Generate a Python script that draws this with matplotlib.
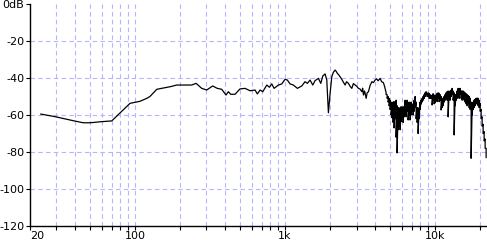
import matplotlib
matplotlib.use("Agg")
import matplotlib.pyplot as plt
from matplotlib.ticker import FixedLocator, NullFormatter

# smooth part of the response (Hz, dB)
freq_lo = [23.6, 29.4, 38.9, 45.3, 50.2, 60.1, 70.1, 92.8, 108, 120, 126, 140, 151, 172, 190,
           239, 256, 279, 301, 330, 354, 379, 405, 420, 435, 465, 502, 542, 586, 632,
           655, 683, 712, 757, 788, 817, 847, 905, 953, 1002, 1038, 1082, 1138, 1211, 1295,
           1362, 1412, 1471, 1533, 1589, 1671, 1734, 1788, 1851, 1901, 1949, 2000, 2053, 2100,
           2159, 2200, 2236, 2280, 2331, 2393, 2442, 2518, 2576, 2649, 2719, 2791, 2860, 2937,
           3014, 3089, 3170, 3255, 3296, 3337, 3396, 3479, 3530, 3604, 3696, 3797, 3888, 3991,
           4084, 4178, 4309, 4408, 4532, 4618]
db_lo = [-59.5, -60.9, -63.1, -64.2, -64.2, -63.6, -63.2, -53.7, -52.6, -51.0, -50.0, -46.1, -45.6, -44.7, -43.8,
         -43.8, -42.9, -45.6, -46.5, -44.3, -45.6, -46.1, -49.2, -47.4, -48.8, -48.8, -45.9, -45.6, -46.9, -46.5,
         -48.6, -46.5, -47.4, -43.8, -45.0, -43.2, -45.6, -43.8, -43.2, -40.7, -41.1, -43.2, -43.8, -45.6, -44.3,
         -42.0, -42.9, -41.1, -43.8, -41.4, -40.2, -42.9, -38.9, -37.8, -41.1, -58.8, -48.3, -39.3, -37.0,
         -35.7, -36.5, -37.5, -38.2, -39.3, -40.7, -42.0, -43.8, -42.0, -42.9, -44.5, -45.6, -43.0, -43.8,
         -44.5, -45.6, -46.0, -47.4, -45.5, -49.2, -47.0, -51.0, -48.0, -47.4, -44.0, -42.0, -42.5, -41.1,
         -40.5, -41.5, -40.2, -42.0, -42.5, -44.6]

# noisy top end: upper and lower edge of the trace at each bin
freq_hf = [4725, 4798, 4872, 4948, 5024, 5102, 5181, 5261, 5342, 5425, 5509, 5594, 5681, 5769, 5858,
           5949, 6041, 6134, 6229, 6325, 6423, 6523, 6623, 6726, 6830, 6936, 7043, 7152, 7262, 7375,
           7489, 7605, 7722, 7842, 7963, 8086, 8211, 8338, 8467, 8598, 8731, 8866, 9003, 9142, 9284,
           9427, 9573, 9721, 9871, 10024, 10179, 10336, 10496, 10658, 10823, 10990, 11160, 11333, 11508, 11686,
           11867, 12050, 12237, 12426, 12619, 12814, 13012, 13213, 13418, 13625, 13836, 14050, 14267, 14488, 14712,
           14940, 15171, 15405, 15644, 15886, 16131, 16381, 16634, 16891, 17153, 17418, 17687, 17961, 18239, 18521,
           18807, 19098, 19393, 19693, 19998, 20307, 20621, 20940, 21264, 21593, 21927]
top_hf = [-48, -49, -50, -51, -52, -53, -54.6, -53, -52.8, -54, -52, -55, -56, -57, -56,
          -55.5, -57, -55.5, -56, -52, -53, -52, -54.6, -53, -55, -53, -54, -55, -52, -50,
          -53, -56, -58, -56, -53, -51.9, -51, -50, -49, -48, -47.4, -48.3, -48, -48.3, -49,
          -49.5, -49.2, -48.5, -49.2, -50, -49, -48.3, -48, -48.3, -49, -50, -51, -51, -50, -49,
          -48, -47.4, -47, -47.4, -47, -46.5, -45.6, -47, -48, -49, -49, -47, -45.6, -46, -45.6,
          -47, -47, -47, -47.5, -48, -48.5, -49, -49.5, -50, -51, -53, -55, -53, -52, -51.5,
          -51, -50.8, -51, -52, -53.7, -57, -61, -65, -69, -73, -78]
bot_hf = [-49, -51, -53, -55, -57, -60, -61.6, -64, -67, -62, -72, -80.5, -68, -66, -68,
          -63.6, -62, -64, -61, -60, -61, -58, -62.7, -60, -62.7, -60, -58, -60, -58, -56,
          -62, -64, -70, -62, -57, -54, -53, -52, -51, -50, -49, -50, -50, -51, -51,
          -51, -54.6, -52, -54, -53.5, -52, -52.8, -51, -52.8, -52, -57.3, -56, -55, -53, -52,
          -51, -52, -61, -51, -52, -50, -49, -52, -70.8, -55, -52, -51, -50, -51, -49,
          -51, -52, -51, -52, -53, -54, -55, -54, -56, -57, -83.4, -60, -57, -56, -55,
          -54, -54, -55, -56, -58, -62, -66, -70, -74, -78, -83]

x_ticks = [20, 100, 1000, 10000]
x_labels = ["20", "100", "1k", "10k"]
y_ticks = [0, -20, -40, -60, -80, -100, -120]
y_labels = ["0dB", "-20", "-40", "-60", "-80", "-100", "-120"]

freq = list(freq_lo)
level = list(db_lo)
for f, a, b in zip(freq_hf, top_hf, bot_hf):
    freq += [f, f]
    level += [a, b]

fig = plt.figure(figsize=(4.87, 2.41), dpi=100)
ax = fig.add_axes([30/487, 15/241, 456.5/487, 222/241])

ax.plot(freq, level, color="black", linewidth=0.9, zorder=3)

ax.set_xscale("log")
ax.set_xlim(20, 22050)
ax.set_ylim(-120, 0)

minor = [m * d for d in (10, 100, 1000, 10000) for m in range(2, 10)]
minor = [v for v in minor if 20 < v < 22050]
grid_x = minor + [100, 1000, 10000]
ax.xaxis.set_major_locator(FixedLocator(x_ticks))
ax.xaxis.set_minor_locator(FixedLocator(minor))
ax.xaxis.set_minor_formatter(NullFormatter())
ax.set_xticklabels(x_labels)
ax.set_yticks(y_ticks)
ax.set_yticklabels(y_labels)

grid_kw = dict(color="#b4b4ff", linestyle=(0, (4, 3)), linewidth=0.8, zorder=1)
for gx in grid_x:
    ax.axvline(gx, **grid_kw)
for gy in [-20, -40, -60, -80, -100]:
    ax.axhline(gy, **grid_kw)

for s in ["top", "right"]:
    ax.spines[s].set_visible(False)
ax.spines["left"].set_linewidth(1.0)
ax.spines["bottom"].set_linewidth(1.0)

ax.tick_params(axis="both", which="both", direction="out", length=3, width=0.8,
               labelsize=8, colors="black")
ax.tick_params(axis="x", pad=0.5)
ax.tick_params(axis="y", pad=1)
ax.xaxis.get_major_ticks()[0].label1.set_horizontalalignment("left")

fig.savefig("out.png", dpi=100)
